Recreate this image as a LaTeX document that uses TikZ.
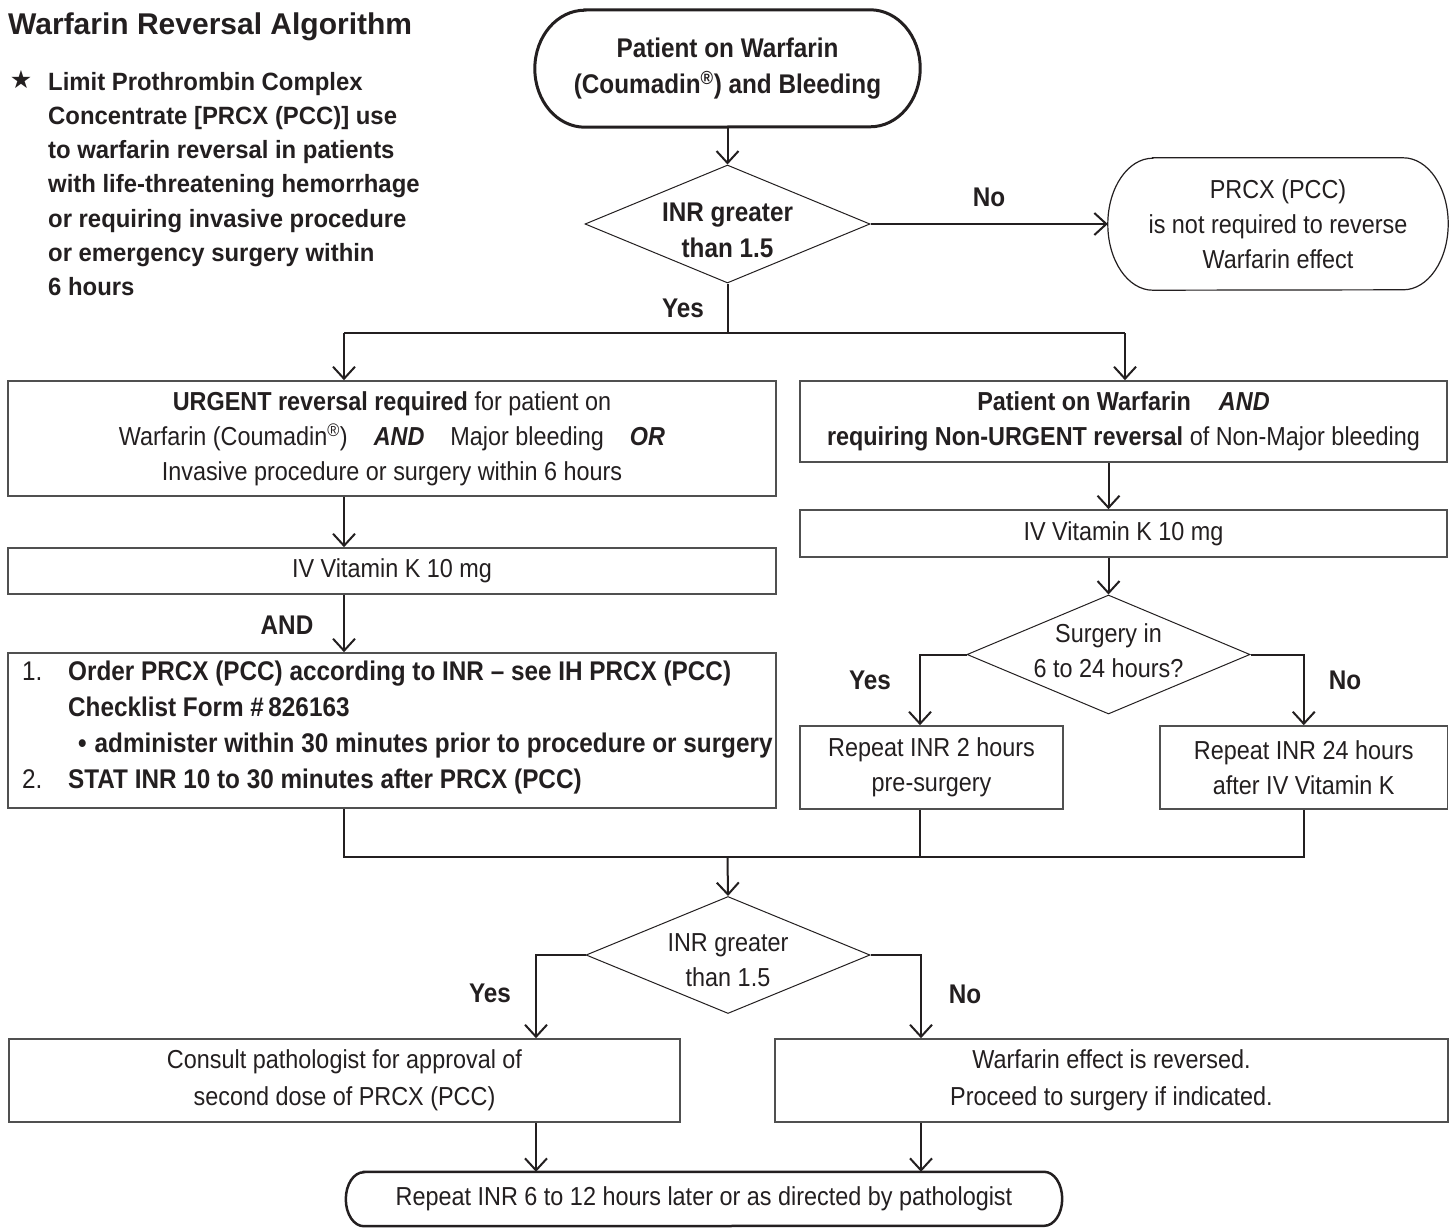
\documentclass[tikz,border=0pt]{standalone}
\usepackage{fontspec}
\setmainfont{Liberation Sans}
\newfontfamily\narfam{Liberation Sans}[FakeStretch=0.9]
\newfontfamily\notefam{Liberation Sans}[FakeStretch=0.955]
\newfontfamily\symfam{DejaVu Sans}
\usetikzlibrary{arrows.meta,shapes.geometric}
\definecolor{ink}{HTML}{231F20}
\definecolor{frame}{HTML}{505050}
\newcommand\rfont{\narfam\fontsize{26}{35}\selectfont}
\newcommand\bfont{\narfam\bfseries\fontsize{27}{36}\selectfont}
\newcommand\termpath[4]{\draw[#4] ([xshift=#2pt]#1.north west) -- ([xshift=-#2pt]#1.north east) arc[start angle=90,end angle=-90,x radius=#2,y radius=#3] -- ([xshift=#2pt]#1.south west) arc[start angle=270,end angle=90,x radius=#2,y radius=#3] -- cycle;}
\begin{document}
\begin{tikzpicture}[x=1pt,y=1pt,
  conn/.style={draw=ink,line width=2pt},
  arr/.style={conn,-{Straight Barb[length=12pt,width=22pt]}},
  box/.style={draw=frame,line width=1.6pt,rectangle,inner sep=0pt,font=\rfont,text=ink,align=center},
  term/.style={rectangle,inner sep=0pt,text=ink,align=center},
  dia/.style={diamond,draw=ink,line width=1pt,inner sep=0pt},
  dtxt/.style={inner sep=0pt,text=ink,align=center},
  lbl/.style={inner sep=0pt,font=\bfont,text=ink}]
\fill[white] (0,0) rectangle (1450,-1228);
\useasboundingbox (0,0) rectangle (1450,-1228);

% title and note
\node[anchor=base west,inner sep=0pt,font=\bfseries\fontsize{30}{36}\selectfont,text=ink] (title) at (8,-35) {Warfarin Reversal Algorithm};
\node[inner sep=0pt,font=\symfam\fontsize{25}{25}\selectfont,text=ink] (star) at (21,-80) {★};
\node[anchor=north west,inner sep=0pt,align=left,font=\notefam\bfseries\fontsize{25}{34.2}\selectfont,text=ink] (note) at (48,-72) {Limit Prothrombin Complex\\Concentrate [PRCX (PCC)] use\\to warfarin reversal in patients\\with life-threatening hemorrhage\\or requiring invasive procedure\\or emergency surgery within\\6 hours};

% start terminal
\node[term,minimum width=385,minimum height=117,font=\bfont] (start) at (727.5,-68.5) {Patient on Warfarin\\(Coumadin\textsuperscript{®}) and Bleeding};
\termpath{start}{50}{58.5}{draw=ink,line width=3pt}

% decision 1
\node[dia,minimum width=285,minimum height=118] (d1) at (727.5,-224) {};
\node[dtxt,font=\bfont] (d1t) at (727.5,-230.5) {INR greater\\than 1.5};
\draw[arr] (start.south) -- (d1.north);

% not required terminal
\node[term,minimum width=340,minimum height=132,font=\rfont] (notreq) at (1278,-224) {PRCX (PCC)\\is not required to reverse\\Warfarin effect};
\termpath{notreq}{45}{66}{draw=ink,line width=1.2pt}
\draw[arr] (d1.east) -- (notreq.west);
\node[lbl] (lno1) at (989,-197) {No};

% split
\coordinate (split) at (727.5,-333);
\coordinate (uL) at (344,-333);
\coordinate (uR) at (1125,-333);
\draw[conn] (d1.south) -- (split);
\draw[conn] (uL) -- (uR);
\node[lbl] (lyes1) at (683,-308) {Yes};

\node[box,minimum width=768,minimum height=115] (urgent) at (392,-438.5) {\textbf{URGENT reversal required} for patient on\\Warfarin (Coumadin\textsuperscript{®})\hspace{26pt}\textbf{\textit{AND}}\hspace{26pt}Major bleeding\hspace{26pt}\textbf{\textit{OR}}\\Invasive procedure or surgery within 6 hours};
\node[box,minimum width=647,minimum height=81] (nonurg) at (1123.5,-421.5) {\textbf{Patient on Warfarin}\hspace{28pt}\textbf{\textit{AND}}\\\textbf{requiring Non-URGENT reversal} of Non-Major bleeding};
\draw[arr] (uL) -- (uL |- urgent.north);
\draw[arr] (uR) -- (uR |- nonurg.north);

% left column
\node[box,minimum width=768,minimum height=46] (ivL) at (392,-571) {IV Vitamin K 10 mg};
\draw[arr] (urgent.south -| uL) -- (ivL.north -| uL);
\node[box,minimum width=768,minimum height=155] (order) at (392,-730.5) {};
\node[anchor=north west,inner sep=0pt,font=\bfont,text=ink] (ordertext) at (22,-655) {%
\begin{tabular}{@{}p{46pt}@{}l@{}}
\mdseries 1. & Order PRCX (PCC) according to INR – see IH PRCX (PCC)\\
 & Checklist Form \#\,826163\\
 & \hspace{10pt}•\hspace{8pt}administer within 30 minutes prior to procedure or surgery\\
\mdseries 2. & STAT INR 10 to 30 minutes after PRCX (PCC)
\end{tabular}};
\draw[arr] (ivL.south -| uL) -- (order.north -| uL);
\node[lbl] (land) at (287,-625) {AND};

% right column
\node[box,minimum width=647,minimum height=47] (ivR) at (1123.5,-533.5) {IV Vitamin K 10 mg};
\node[dia,minimum width=283,minimum height=119] (d2) at (1108.5,-654.5) {};
\node[dtxt,font=\rfont] (d2t) at (1108.5,-650.5) {Surgery in\\6 to 24 hours?};
\draw[arr] (nonurg.south -| d2.north) -- (ivR.north -| d2.north);
\draw[arr] (ivR.south -| d2.north) -- (d2.north);

\coordinate (c2h) at (920,-654.5);
\node[box,minimum width=263,minimum height=83] (box2h) at (931.5,-767.5) {Repeat INR 2 hours\\pre-surgery};
\node[box,minimum width=287.5,minimum height=83] (box24) at (1303.75,-767.5) {Repeat INR 24 hours\\after IV Vitamin K};
\draw[arr] (d2.west) -- (c2h) -- (c2h |- box2h.north);
\draw[arr] (d2.east) -| (box24.north);
\node[lbl] (lyes2) at (870,-680) {Yes};
\node[lbl] (lno2) at (1345,-680) {No};

% merge
\coordinate (m) at (727.5,-857);
\draw[conn] (order.south -| uL) -- (uL |- m) -- (box24.south |- m) -- (box24.south);
\draw[conn] (box2h.south -| c2h) -- (c2h |- m);

% decision 3
\node[dia,minimum width=284,minimum height=117] (d3) at (728,-955) {};
\node[dtxt,font=\rfont] (d3t) at (728,-960.5) {INR greater\\than 1.5};
\draw[arr] (m) -- (d3.north);

\coordinate (cy) at (536,-955);
\coordinate (cn) at (921,-955);
\node[box,minimum width=671,minimum height=83,font=\narfam\fontsize{26}{37}\selectfont] (consult) at (344.5,-1080.5) {Consult pathologist for approval of\\second dose of PRCX (PCC)};
\node[box,minimum width=673,minimum height=83,font=\narfam\fontsize{26}{37}\selectfont] (rev) at (1111.5,-1080.5) {Warfarin effect is reversed.\\Proceed to surgery if indicated.};
\draw[arr] (d3.west) -- (cy) -- (cy |- consult.north);
\draw[arr] (d3.east) -- (cn) -- (cn |- rev.north);
\node[lbl] (lyes3) at (490,-993) {Yes};
\node[lbl] (lno3) at (965,-994) {No};

% final terminal
\node[term,minimum width=716,minimum height=54,font=\rfont] (final) at (704,-1199) {Repeat INR 6 to 12 hours later or as directed by pathologist};
\termpath{final}{18}{27}{draw=ink,line width=2.5pt}
\draw[arr] (consult.south -| cy) -- (final.north -| cy);
\draw[arr] (rev.south -| cn) -- (final.north -| cn);
\end{tikzpicture}
\end{document}
